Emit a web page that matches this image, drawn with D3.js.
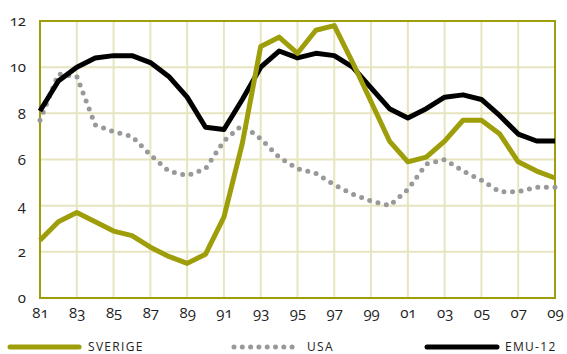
<!DOCTYPE html>
<html>
<head>
<meta charset="utf-8">
<script src="https://cdn.jsdelivr.net/npm/d3@7/dist/d3.min.js"></script>
<style>
  html, body { margin: 0; padding: 0; background: #fff; }
  svg { display: block; font-family: "Open Sans", "Noto Sans", sans-serif; }
  .tick text { font-feature-settings: "onum" 1; font-variant-numeric: oldstyle-nums; }
</style>
</head>
<body>
<svg id="chart" width="567" height="354"></svg>
<script>
// Years 1981–2009
const years = d3.range(1981, 2010);

const sverige = [2.5, 3.3, 3.7, 3.3, 2.9, 2.7, 2.2, 1.8, 1.5, 1.9, 3.5, 6.7, 10.9, 11.3, 10.6, 11.6, 11.8,
                 10.2, 8.5, 6.8, 5.9, 6.1, 6.8, 7.7, 7.7, 7.1, 5.9, 5.5, 5.2];
const usa     = [7.7, 9.7, 9.6, 7.5, 7.2, 7.0, 6.2, 5.5, 5.3, 5.6, 6.8, 7.5, 6.9, 6.1, 5.6, 5.4, 4.9,
                 4.5, 4.2, 4.0, 4.7, 5.8, 6.0, 5.5, 5.1, 4.6, 4.6, 4.8, 4.8];
const emu12   = [8.1, 9.4, 10.0, 10.4, 10.5, 10.5, 10.2, 9.6, 8.7, 7.4, 7.3, 8.6, 10.0, 10.7, 10.4, 10.6, 10.5,
                 10.0, 9.1, 8.2, 7.8, 8.2, 8.7, 8.8, 8.6, 7.9, 7.1, 6.8, 6.8];

const xTickYears = d3.range(1981, 2010, 2);
const yTicks = [0, 2, 4, 6, 8, 10, 12];
const seriesNames = ["SVERIGE", "USA", "EMU-12"];

const olive = "#9e9e0b";
const gridColor = "#e7e5bf";

const svg = d3.select("#chart");
const m = { left: 40, right: 12, top: 21, bottom: 56 };
const W = 567, H = 354;

const x = d3.scaleLinear().domain([1981, 2009]).range([m.left, W - m.right]);
const y = d3.scaleLinear().domain([0, 12]).range([H - m.bottom, m.top]);

// grid
const g = svg.append("g");
g.selectAll("line.vg").data(xTickYears).join("line")
  .attr("x1", d => x(d)).attr("x2", d => x(d))
  .attr("y1", y(0)).attr("y2", y(12))
  .attr("stroke", gridColor).attr("stroke-width", 2);
g.selectAll("line.hg").data(yTicks).join("line")
  .attr("x1", x(1981)).attr("x2", x(2009))
  .attr("y1", d => y(d)).attr("y2", d => y(d))
  .attr("stroke", gridColor).attr("stroke-width", 2);

// axes (labels only)
const xAxis = d3.axisBottom(x).tickValues(xTickYears)
  .tickFormat(d => String(d % 100).padStart(2, "0")).tickSize(0).tickPadding(9);
svg.append("g").attr("transform", `translate(0,${y(0)})`).call(xAxis)
  .call(a => a.select(".domain").remove())
  .selectAll("text").attr("font-size", 15).attr("fill", "#222")
  .attr("font-family", "'Open Sans', sans-serif");

const yAxis = d3.axisLeft(y).tickValues(yTicks).tickSize(0).tickPadding(14);
svg.append("g").attr("transform", `translate(${x(1981)},0)`).call(yAxis)
  .call(a => a.select(".domain").remove())
  .selectAll("text").attr("font-size", 15).attr("fill", "#222")
  .attr("font-family", "'Open Sans', sans-serif");

// frame
svg.append("rect")
  .attr("x", x(1981)).attr("y", y(12))
  .attr("width", x(2009) - x(1981)).attr("height", y(0) - y(12))
  .attr("fill", "none").attr("stroke", olive).attr("stroke-width", 2);

const line = d3.line().x((d, i) => x(years[i])).y(d => y(d));

svg.append("path").datum(usa).attr("d", line)
  .attr("fill", "none").attr("stroke", "#999").attr("stroke-width", 5)
  .attr("stroke-linecap", "round").attr("stroke-dasharray", "0 8.6");
svg.append("path").datum(emu12).attr("d", line)
  .attr("fill", "none").attr("stroke", "#000").attr("stroke-width", 5)
  .attr("stroke-linejoin", "round");
svg.append("path").datum(sverige).attr("d", line)
  .attr("fill", "none").attr("stroke", olive).attr("stroke-width", 5)
  .attr("stroke-linejoin", "round");

// legend
const ly = 347;
const legend = [
  { name: seriesNames[0], x1: 10, x2: 79, color: olive, dash: null, tx: 88 },
  { name: seriesNames[1], x1: 234, x2: 300, color: "#999", dash: "0 8.3", tx: 307 },
  { name: seriesNames[2], x1: 427, x2: 497, color: "#000", dash: null, tx: 505 }
];
const lg = svg.append("g");
legend.forEach(l => {
  lg.append("line").attr("x1", l.x1).attr("x2", l.x2).attr("y1", ly).attr("y2", ly)
    .attr("stroke", l.color).attr("stroke-width", 5).attr("stroke-linecap", "round")
    .attr("stroke-dasharray", l.dash);
  lg.append("text").attr("x", l.tx).attr("y", ly + 3.5).text(l.name)
    .attr("font-size", 12).attr("letter-spacing", 1.3).attr("fill", "#222");
});
</script>
</body>
</html>
